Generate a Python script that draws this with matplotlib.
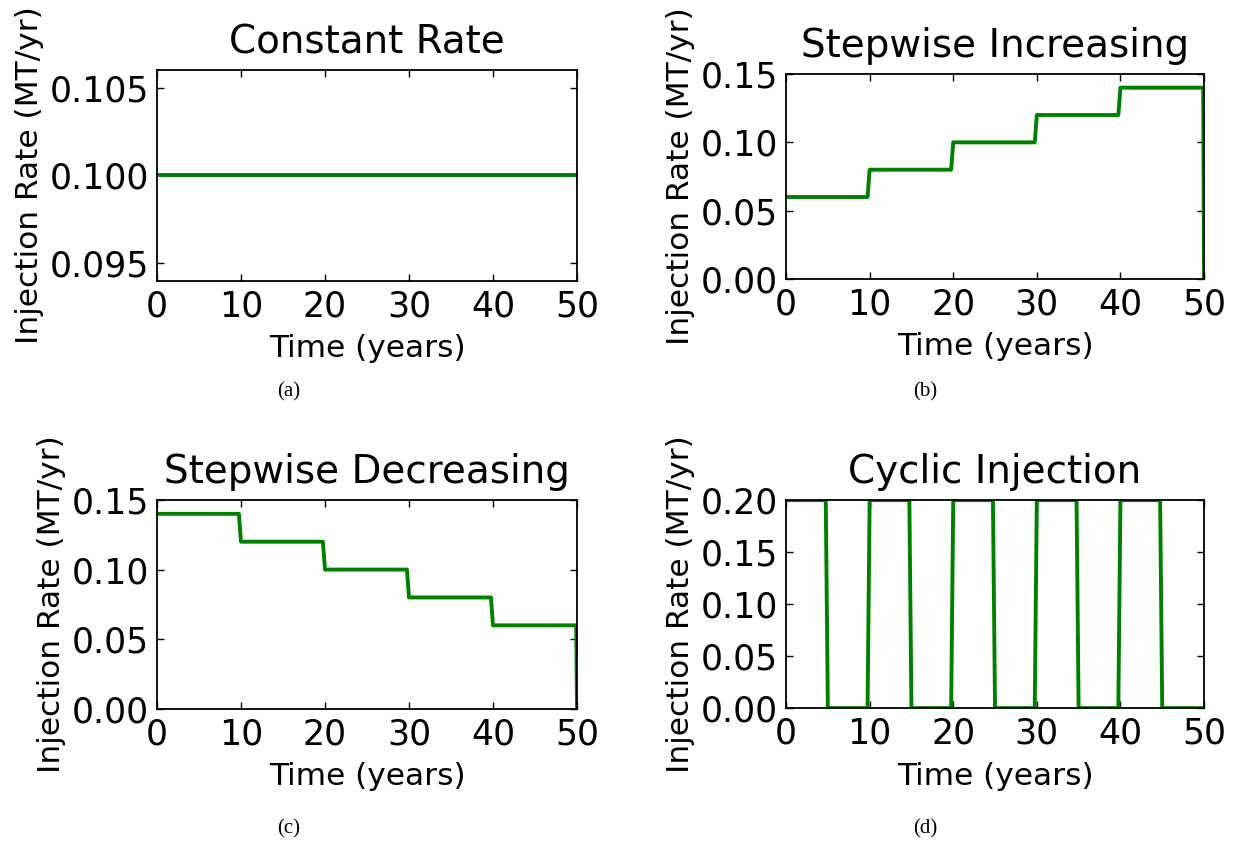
# encoding: utf-8

import numpy as np
from matplotlib import pyplot as plt

# data
time_const = [0, 50]
rate_const = [0.1, 0.1]

time_step = [0, 9.75, 10, 19.75, 20, 29.75, 30, 39.75, 40, 49.9, 50]
rate_inc = [0.06, 0.06, 0.08, 0.08, 0.10, 0.10, 0.12, 0.12, 0.14, 0.14, 0.0]
rate_dec = [0.14, 0.14, 0.12, 0.12, 0.10, 0.10, 0.08, 0.08, 0.06, 0.06, 0.0]

time_cyc = [0, 4.75, 5, 9.75, 10, 14.75, 15, 19.75, 20, 24.75,
            25, 29.75, 30, 34.75, 35, 39.75, 40, 44.75, 45, 50]
rate_cyc = [0.2, 0.2, 0, 0, 0.2, 0.2, 0, 0, 0.2, 0.2,
            0, 0, 0.2, 0.2, 0, 0, 0.2, 0.2, 0, 0]

titles = ['Constant Rate', 'Stepwise Increasing', 'Stepwise Decreasing', 'Cyclic Injection']
captions = ['(a)', '(b)', '(c)', '(d)']
xticks = [0, 10, 20, 30, 40, 50]
yticks = [[0.095, 0.100, 0.105],
          [0.00, 0.05, 0.10, 0.15],
          [0.00, 0.05, 0.10, 0.15],
          [0.00, 0.05, 0.10, 0.15, 0.20]]
ylims = [(0.094, 0.106), (0, 0.15), (0, 0.15), (0, 0.20)]
yfmt = ['%.3f', '%.2f', '%.2f', '%.2f']

series = [(time_const, rate_const), (time_step, rate_inc),
          (time_step, rate_dec), (time_cyc, rate_cyc)]

# axes boxes in figure fractions [left, bottom, width, height]
boxes = [[0.1272, 0.6667, 0.3404, 0.2503],
         [0.6370, 0.6690, 0.3387, 0.2432],
         [0.1272, 0.1590, 0.3404, 0.2480],
         [0.6370, 0.1600, 0.3387, 0.2467]]
cap_pos = [(0.2342, 0.535), (0.7496, 0.535), (0.2342, 0.0166), (0.7496, 0.0166)]

plt.rcParams['font.family'] = 'DejaVu Sans'

fig = plt.figure(figsize=(12.34, 8.43), dpi=100)
fig.patch.set_facecolor('white')

for i in range(4):
    ax = fig.add_axes(boxes[i])
    t, r = series[i]
    ax.plot(t, r, color='g', lw=2.8)
    ax.set_xlim(0, 50)
    ax.set_ylim(*ylims[i])
    ax.set_xticks(xticks)
    ax.set_yticks(yticks[i])
    ax.set_yticklabels([yfmt[i] % v for v in yticks[i]])
    ax.tick_params(direction='in', top=True, right=True, length=5, width=1,
                   labelsize=25, pad=6)
    for sp in ax.spines.values():
        sp.set_linewidth(1.3)
    ax.set_title(titles[i], fontsize=28, pad=12)
    ax.set_xlabel('Time (years)', fontsize=22.5, labelpad=8)
    ax.set_ylabel('Injection Rate (MT/yr)', fontsize=22.5, labelpad=4)
    fig.text(cap_pos[i][0], cap_pos[i][1], captions[i], ha='center', va='center',
             fontsize=15, family='Liberation Serif')

plt.savefig('out.png', dpi=100, facecolor='white')
